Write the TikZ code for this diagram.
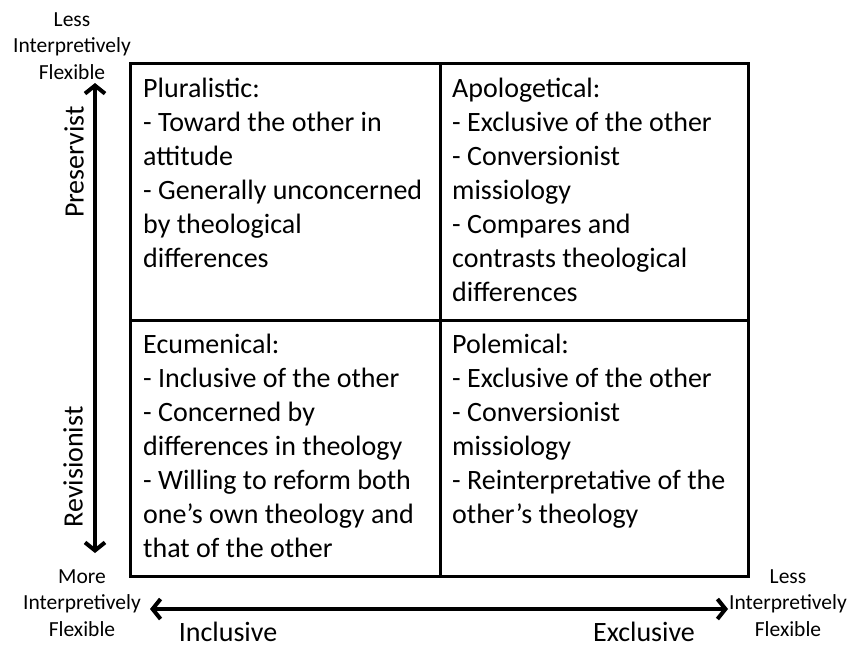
\documentclass[tikz,border=0pt]{standalone}
\usepackage{fontspec}
\setmainfont{Carlito}
\usetikzlibrary{arrows.meta}
\tikzset{
  cell/.style={anchor=north west, align=left, inner sep=0pt, font=\fontsize{28}{34}\selectfont},
  flexlabel/.style={align=center, inner sep=0pt, font=\fontsize{21.5}{26.5}\selectfont},
  axislabel/.style={inner sep=0pt, font=\fontsize{28}{34}\selectfont},
  frame/.style={line width=3pt},
  axisarrow/.style={line width=4pt, {Straight Barb[length=8pt,width=20pt]}-{Straight Barb[length=8pt,width=20pt]}}
}
\begin{document}
\begin{tikzpicture}[x=1pt,y=-1pt]
    \useasboundingbox (0,0) rectangle (850,646);
    % the four cells
    \draw[frame] (130,63) rectangle (748,576);
    \draw[frame] (440,63) -- (440,576);
    \draw[frame] (130,320) -- (748,320);

    \node[cell] (plural) at (143,77.5) {Pluralistic:\\- Toward the other in\\attitude\\- Generally unconcerned\\by theological\\differences};
    \node[cell] (apolog) at (452,77.5) {Apologetical:\\- Exclusive of the other\\- Conversionist\\missiology\\- Compares and\\contrasts theological\\differences};
    \node[cell] (ecumen) at (143,333.5) {Ecumenical:\\- Inclusive of the other\\- Concerned by\\differences in theology\\- Willing to reform both\\one’s own theology and\\that of the other};
    \node[cell] (polem) at (452,333.5) {Polemical:\\- Exclusive of the other\\- Conversionist\\missiology\\- Reinterpretative of the\\other’s theology};

    % axes
    \node[flexlabel] (lessTop) at (72,46) {Less\\Interpretively\\Flexible};
    \node[flexlabel] (moreLeft) at (82,603) {More\\Interpretively\\Flexible};
    \node[flexlabel] (lessRight) at (788,603) {Less\\Interpretively\\Flexible};
    \coordinate (vtop) at (95,83);
    \coordinate (vbot) at (95,553);
    \coordinate (hleft) at (150,609);
    \coordinate (hright) at (728,609);
    \draw[axisarrow] (vtop) -- (vbot);
    \draw[axisarrow] (hleft) -- (hright);

    \node[axislabel, rotate=90] (preserv) at (74,162) {Preservist};
    \node[axislabel, rotate=90] (revis) at (73,467) {Revisionist};
    \node[axislabel, anchor=base] (incl) at (228,641) {Inclusive};
    \node[axislabel, anchor=base] (excl) at (644,641) {Exclusive};
\end{tikzpicture}
\end{document}
